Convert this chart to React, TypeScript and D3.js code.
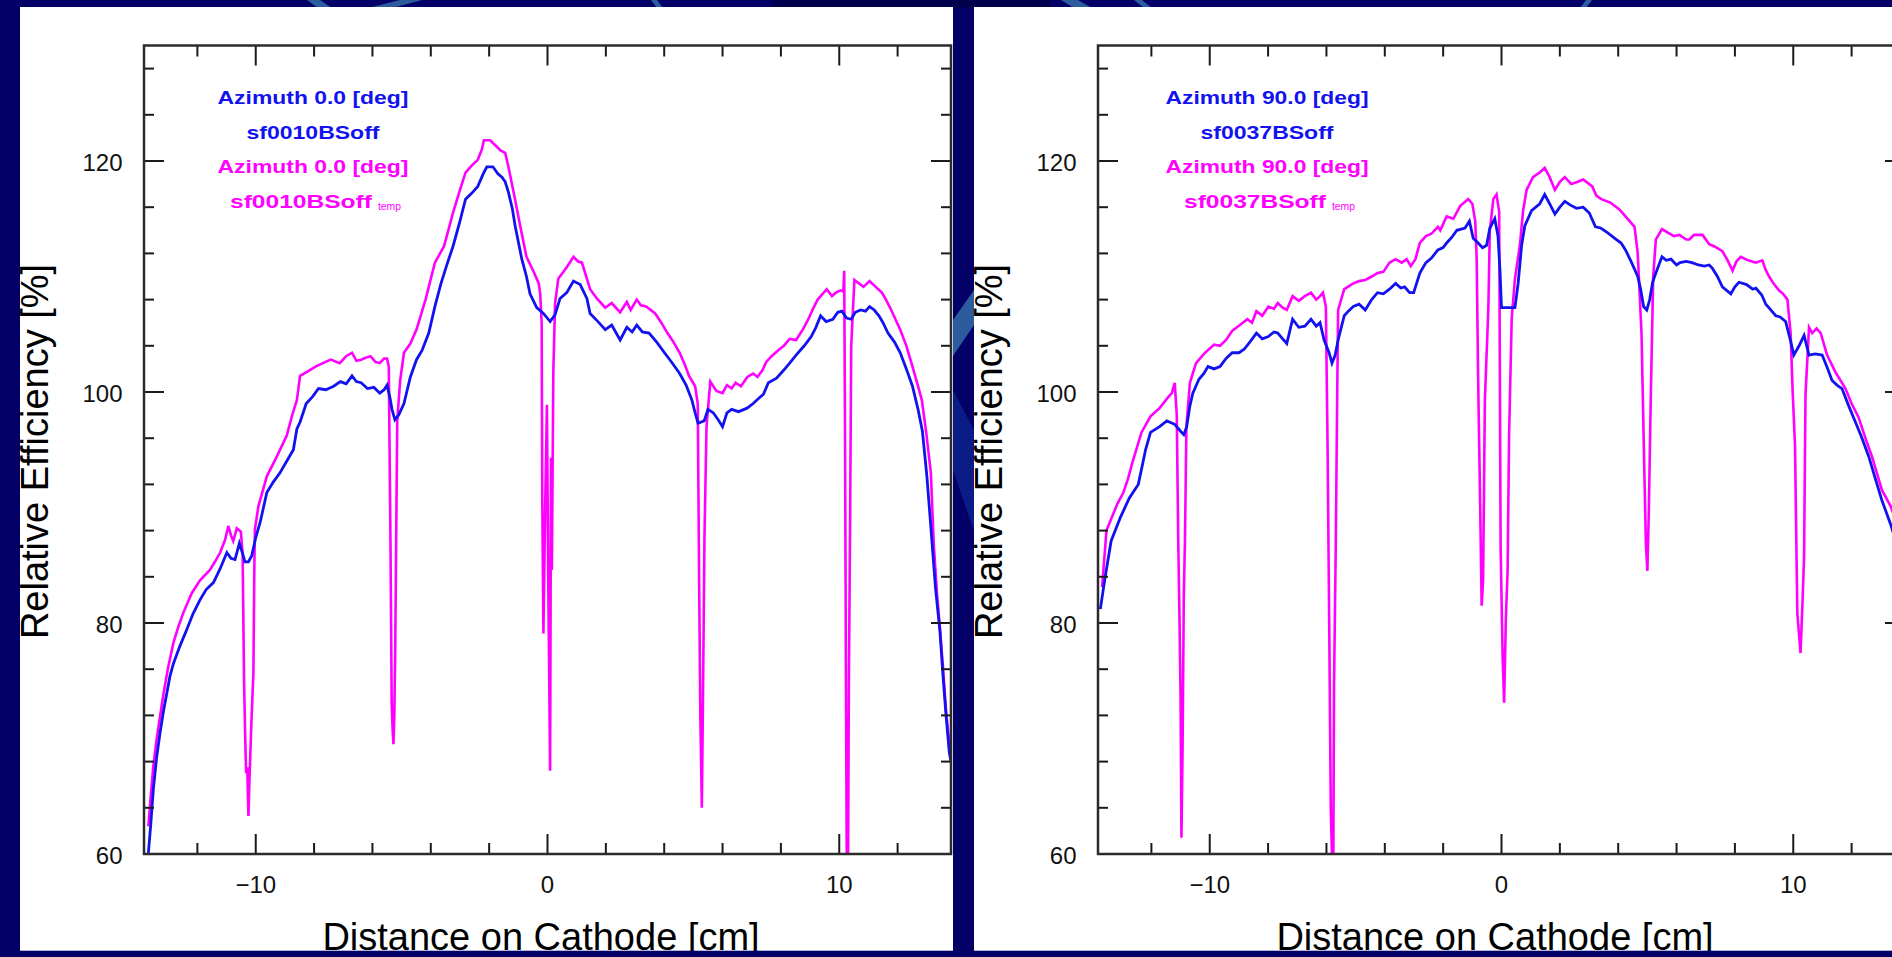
import React from "react";
import * as d3 from "d3";

type Pt = [number, number];

// Axis ticks and labels
const xTickValues: number[] = [-12, -10, -8, -6, -4, -2, 0, 2, 4, 6, 8, 10, 12];
const xMajorTicks: number[] = [-10, 0, 10];
const yTickValues: number[] = [60, 64, 68, 72, 76, 80, 84, 88, 92, 96, 100, 104, 108, 112, 116, 120, 124, 128];
const yMajorTicks: number[] = [60, 80, 100, 120];
const xDomain: [number, number] = [-13.83, 13.83];
const yDomain: [number, number] = [60, 130];

// Azimuth 0.0 deg, sf0010BSoff
const az0Blue: Pt[] = [
  [-13.68, 60.1], [-13.6, 62.5], [-13.51, 65.6], [-13.4, 68.3], [-13.28, 70.5], [-13.16, 72.4],
  [-13.05, 73.9], [-12.94, 75.4], [-12.82, 76.5], [-12.6, 78.0], [-12.37, 79.4], [-12.15, 80.8],
  [-11.91, 82.0], [-11.7, 82.9], [-11.45, 83.5], [-11.22, 84.7], [-10.99, 86.1], [-10.85, 85.6],
  [-10.71, 85.5], [-10.56, 86.9], [-10.45, 86.0], [-10.37, 85.3], [-10.25, 85.3], [-10.14, 85.8],
  [-10.0, 87.4], [-9.85, 88.7], [-9.62, 91.3], [-9.4, 92.2], [-9.17, 93.0], [-8.94, 94.0],
  [-8.71, 95.0], [-8.59, 96.8], [-8.48, 97.4], [-8.27, 99.0], [-8.05, 99.6], [-7.85, 100.3],
  [-7.6, 100.2], [-7.33, 100.5], [-7.1, 100.9], [-6.9, 100.7], [-6.7, 101.4], [-6.55, 100.9],
  [-6.39, 100.8], [-6.17, 100.3], [-5.95, 100.4], [-5.75, 99.9], [-5.6, 100.2], [-5.5, 100.6],
  [-5.4, 99.5], [-5.33, 98.5], [-5.23, 97.6], [-5.1, 98.0], [-4.92, 99.0], [-4.7, 101.3],
  [-4.49, 102.8], [-4.3, 103.6], [-4.07, 105.1], [-3.85, 107.5], [-3.65, 109.4], [-3.45, 111.0],
  [-3.24, 112.6], [-3.0, 114.8], [-2.81, 116.7], [-2.6, 117.2], [-2.39, 117.8], [-2.2, 118.9],
  [-2.08, 119.5], [-1.87, 119.5], [-1.7, 118.9], [-1.56, 118.6], [-1.45, 118.2], [-1.34, 117.3],
  [-1.2, 115.8], [-1.11, 114.4], [-0.88, 111.5], [-0.72, 110.0], [-0.6, 108.5], [-0.37, 107.3],
  [-0.14, 106.8], [0.09, 106.1], [0.26, 106.7], [0.43, 108.1], [0.66, 108.6], [0.89, 109.6],
  [1.12, 109.3], [1.35, 108.1], [1.46, 106.8], [1.69, 106.2], [1.98, 105.4], [2.2, 105.8],
  [2.49, 104.5], [2.72, 105.6], [2.9, 105.2], [3.06, 105.8], [3.25, 105.2], [3.48, 105.1],
  [3.75, 104.3], [4.01, 103.4], [4.25, 102.6], [4.53, 101.6], [4.75, 100.6], [4.95, 99.3],
  [5.06, 98.2], [5.16, 97.3], [5.37, 97.5], [5.5, 98.5], [5.68, 98.2], [5.85, 97.6],
  [6.0, 97.0], [6.15, 98.2], [6.31, 98.5], [6.55, 98.3], [6.84, 98.6], [7.05, 99.0],
  [7.26, 99.5], [7.4, 99.8], [7.57, 100.8], [7.85, 101.2], [8.1, 101.9], [8.3, 102.5],
  [8.52, 103.2], [8.8, 104.0], [9.04, 104.8], [9.2, 105.6], [9.36, 106.6], [9.55, 106.1],
  [9.78, 106.3], [9.95, 106.9], [10.09, 107.0], [10.25, 106.4], [10.41, 106.3], [10.55, 106.9],
  [10.73, 107.1], [10.9, 107.0], [11.04, 107.4], [11.2, 107.1], [11.36, 106.6], [11.5, 106.0],
  [11.67, 105.1], [11.9, 104.3], [12.09, 103.4], [12.3, 102.0], [12.51, 100.5], [12.7, 98.5],
  [12.85, 96.6], [13.0, 92.8], [13.14, 88.3], [13.3, 83.0], [13.45, 79.3], [13.56, 75.3],
  [13.66, 72.0], [13.77, 68.8], [13.83, 68.0],
];

// Azimuth 0.0 deg, sf0010BSoff temp
const az0Magenta: Pt[] = [
  [-13.68, 62.4], [-13.6, 65.0], [-13.51, 67.6], [-13.4, 69.9], [-13.28, 71.9], [-13.16, 73.9],
  [-13.0, 76.2], [-12.82, 78.3], [-12.65, 79.7], [-12.48, 80.9], [-12.19, 82.6], [-11.91, 83.7],
  [-11.57, 84.6], [-11.4, 85.3], [-11.22, 86.1], [-11.05, 87.2], [-10.94, 88.4], [-10.85, 87.6],
  [-10.77, 87.1], [-10.65, 88.2], [-10.51, 87.9], [-10.45, 86.0], [-10.4, 74.8], [-10.36, 70.0],
  [-10.33, 67.0], [-10.29, 67.5], [-10.25, 63.3], [-10.22, 66.0], [-10.2, 67.6], [-10.14, 72.0],
  [-10.08, 75.7], [-10.05, 84.3], [-10.03, 88.1], [-9.91, 90.1], [-9.62, 92.7], [-9.28, 94.4],
  [-8.94, 96.2], [-8.75, 98.0], [-8.59, 99.3], [-8.48, 101.4], [-8.2, 101.8], [-7.95, 102.2],
  [-7.7, 102.5], [-7.43, 102.8], [-7.12, 102.5], [-6.9, 103.1], [-6.7, 103.4], [-6.55, 102.7],
  [-6.39, 102.8], [-6.2, 103.0], [-6.07, 103.1], [-5.9, 102.6], [-5.75, 102.5], [-5.6, 102.9],
  [-5.5, 102.9], [-5.44, 102.2], [-5.38, 86.4], [-5.34, 73.0], [-5.31, 70.9], [-5.28, 69.5],
  [-5.25, 72.0], [-5.22, 77.6], [-5.19, 86.2], [-5.15, 97.5], [-5.05, 101.0], [-4.92, 103.4],
  [-4.7, 104.2], [-4.49, 105.4], [-4.18, 108.0], [-4.0, 109.8], [-3.86, 111.2], [-3.55, 112.6],
  [-3.4, 114.0], [-3.24, 115.5], [-3.0, 117.5], [-2.81, 119.0], [-2.6, 119.6], [-2.39, 120.1],
  [-2.25, 121.0], [-2.18, 121.8], [-1.97, 121.8], [-1.76, 121.3], [-1.6, 120.9], [-1.45, 120.7],
  [-1.34, 119.5], [-1.13, 116.9], [-0.93, 114.3], [-0.72, 111.7], [-0.51, 110.6], [-0.3, 109.4],
  [-0.25, 108.5], [-0.2, 106.0], [-0.18, 91.1], [-0.14, 79.1], [-0.08, 90.0], [-0.02, 98.9],
  [0.03, 82.5], [0.06, 75.0], [0.09, 67.2], [0.12, 94.3], [0.15, 84.6], [0.2, 101.8],
  [0.26, 107.7], [0.37, 109.8], [0.66, 110.8], [0.89, 111.7], [1.05, 111.3], [1.18, 111.2],
  [1.46, 108.9], [1.69, 108.1], [1.98, 107.3], [2.2, 107.7], [2.49, 106.9], [2.72, 107.8],
  [2.85, 107.1], [3.06, 108.0], [3.2, 107.5], [3.38, 107.4], [3.69, 106.8], [3.9, 106.0],
  [4.11, 105.1], [4.3, 104.4], [4.53, 103.4], [4.7, 102.4], [4.85, 101.4], [5.06, 100.5],
  [5.15, 99.0], [5.2, 82.8], [5.24, 71.8], [5.29, 64.0], [5.33, 73.8], [5.38, 87.4],
  [5.45, 97.0], [5.58, 100.9], [5.79, 100.1], [6.0, 99.9], [6.15, 100.6], [6.31, 100.3],
  [6.45, 100.8], [6.63, 100.5], [6.85, 101.3], [7.05, 101.6], [7.2, 101.3], [7.37, 101.9],
  [7.5, 102.6], [7.68, 103.1], [7.9, 103.6], [8.1, 104.0], [8.3, 104.6], [8.52, 104.5],
  [8.75, 105.4], [8.94, 106.3], [9.1, 107.2], [9.26, 108.0], [9.4, 108.4], [9.57, 108.9],
  [9.75, 108.3], [9.88, 108.6], [10.05, 108.8], [10.14, 108.7], [10.17, 110.5], [10.2, 95.0],
  [10.23, 74.4], [10.26, 58.0], [10.3, 58.0], [10.33, 75.0], [10.37, 88.0], [10.41, 104.0],
  [10.52, 109.7], [10.83, 109.1], [11.04, 109.6], [11.25, 109.1], [11.46, 108.6], [11.6, 108.0],
  [11.78, 107.1], [12.09, 105.4], [12.3, 104.0], [12.51, 102.2], [12.7, 100.5], [12.83, 99.3],
  [12.98, 96.5], [13.14, 93.0], [13.24, 86.8], [13.35, 82.5], [13.45, 79.6], [13.56, 76.0],
  [13.66, 72.4], [13.81, 68.6],
];

// Azimuth 90.0 deg, sf0037BSoff
const az90Blue: Pt[] = [
  [-13.75, 81.2], [-13.59, 83.9], [-13.38, 87.1], [-13.07, 89.1], [-12.76, 90.8], [-12.45, 92.0],
  [-12.34, 93.3], [-12.2, 95.0], [-12.03, 96.5], [-11.72, 97.0], [-11.47, 97.5], [-11.2, 97.2],
  [-11.0, 96.6], [-10.89, 96.3], [-10.79, 97.0], [-10.68, 98.8], [-10.58, 99.9], [-10.37, 101.1],
  [-10.2, 101.6], [-10.06, 102.2], [-9.85, 102.0], [-9.65, 102.2], [-9.44, 102.9], [-9.23, 103.4],
  [-9.0, 103.4], [-8.82, 103.7], [-8.6, 104.4], [-8.4, 105.1], [-8.2, 104.6], [-7.99, 104.8],
  [-7.8, 105.2], [-7.67, 105.1], [-7.5, 104.6], [-7.36, 104.2], [-7.16, 106.3], [-6.95, 105.6],
  [-6.74, 105.7], [-6.53, 106.3], [-6.35, 105.7], [-6.22, 106.0], [-6.08, 104.5], [-5.91, 103.4],
  [-5.81, 102.5], [-5.7, 103.2], [-5.6, 104.5], [-5.39, 106.6], [-5.25, 107.0], [-5.08, 107.4],
  [-4.88, 107.6], [-4.67, 107.1], [-4.45, 108.0], [-4.25, 108.6], [-4.05, 108.5], [-3.84, 108.9],
  [-3.63, 109.4], [-3.45, 109.0], [-3.32, 109.1], [-3.15, 108.6], [-3.01, 108.6], [-2.8, 110.3],
  [-2.59, 111.2], [-2.4, 111.6], [-2.18, 112.3], [-2.0, 112.5], [-1.88, 112.9], [-1.7, 113.4],
  [-1.53, 114.0], [-1.25, 114.2], [-1.1, 114.8], [-0.97, 113.3], [-0.8, 112.9], [-0.65, 112.5],
  [-0.51, 112.7], [-0.4, 114.2], [-0.23, 115.0], [-0.12, 113.5], [-0.05, 110.4], [0.0, 107.3],
  [0.46, 107.3], [0.57, 109.4], [0.69, 112.7], [0.8, 114.4], [1.03, 115.7], [1.31, 116.3],
  [1.48, 117.1], [1.65, 116.3], [1.83, 115.4], [2.0, 116.0], [2.17, 116.5], [2.35, 116.2],
  [2.57, 115.9], [2.8, 116.0], [3.01, 115.5], [3.22, 114.3], [3.4, 114.2], [3.63, 113.8],
  [3.94, 113.2], [4.1, 112.9], [4.25, 112.3], [4.46, 111.2], [4.67, 110.0], [4.77, 108.9],
  [4.87, 107.4], [4.98, 107.1], [5.08, 108.0], [5.18, 109.5], [5.29, 110.3], [5.5, 111.7],
  [5.65, 111.4], [5.81, 111.5], [6.0, 111.0], [6.12, 111.2], [6.33, 111.3], [6.53, 111.2],
  [6.75, 111.0], [6.95, 110.9], [7.12, 111.0], [7.23, 110.7], [7.4, 110.0], [7.57, 109.1],
  [7.86, 108.5], [8.0, 109.1], [8.14, 109.5], [8.4, 109.3], [8.61, 108.9], [8.72, 109.0],
  [8.92, 108.4], [9.06, 107.6], [9.2, 107.2], [9.4, 106.6], [9.55, 106.5], [9.74, 106.1],
  [9.9, 104.5], [10.02, 103.2], [10.2, 104.0], [10.37, 104.9], [10.54, 103.2], [10.75, 103.3],
  [10.99, 103.2], [11.15, 102.2], [11.33, 101.0], [11.5, 100.6], [11.67, 100.3], [11.9, 98.8],
  [12.13, 97.4], [12.34, 96.1], [12.59, 94.4], [12.8, 92.6], [13.04, 90.6], [13.2, 89.5],
  [13.33, 88.6], [13.5, 87.2],
];

// Azimuth 90.0 deg, sf0037BSoff temp
const az90Magenta: Pt[] = [
  [-13.69, 83.1], [-13.54, 88.0], [-13.17, 90.3], [-12.96, 91.3], [-12.8, 92.5], [-12.65, 93.9],
  [-12.34, 96.5], [-12.03, 97.9], [-11.72, 98.6], [-11.41, 99.6], [-11.3, 99.9], [-11.2, 100.8],
  [-11.13, 98.0], [-11.08, 87.2], [-11.04, 81.0], [-11.0, 73.8], [-10.97, 61.4], [-10.93, 69.5],
  [-10.89, 82.2], [-10.85, 87.1], [-10.8, 97.0], [-10.68, 100.8], [-10.47, 102.5], [-10.16, 103.4],
  [-9.85, 104.1], [-9.65, 104.0], [-9.44, 104.5], [-9.23, 105.3], [-9.02, 105.7], [-8.71, 106.3],
  [-8.55, 106.0], [-8.4, 107.0], [-8.2, 106.6], [-7.99, 107.4], [-7.8, 107.2], [-7.67, 107.7],
  [-7.5, 107.3], [-7.36, 107.1], [-7.16, 108.3], [-6.95, 107.9], [-6.74, 108.3], [-6.53, 108.6],
  [-6.35, 108.0], [-6.22, 108.3], [-6.12, 108.6], [-6.02, 107.4], [-5.96, 95.0], [-5.9, 78.4],
  [-5.85, 63.7], [-5.81, 60.0], [-5.77, 56.0], [-5.74, 74.7], [-5.68, 86.8], [-5.63, 100.0],
  [-5.6, 107.1], [-5.39, 108.9], [-5.08, 109.4], [-4.88, 109.6], [-4.67, 109.7], [-4.45, 110.0],
  [-4.25, 110.3], [-4.05, 110.4], [-3.84, 111.2], [-3.63, 111.5], [-3.42, 111.2], [-3.25, 111.5],
  [-3.11, 110.9], [-2.95, 111.5], [-2.8, 112.9], [-2.59, 113.5], [-2.4, 113.7], [-2.18, 114.3],
  [-2.1, 114.0], [-1.88, 115.2], [-1.65, 115.0], [-1.42, 116.1], [-1.14, 116.7], [-1.0, 116.3],
  [-0.9, 114.8], [-0.85, 111.5], [-0.8, 101.0], [-0.74, 91.7], [-0.68, 81.5], [-0.63, 83.8],
  [-0.57, 99.3], [-0.45, 107.3], [-0.4, 114.0], [-0.28, 116.7], [-0.17, 117.1], [-0.08, 115.6],
  [-0.05, 98.0], [-0.03, 86.5], [0.04, 77.0], [0.09, 73.1], [0.15, 80.4], [0.21, 84.6],
  [0.26, 96.3], [0.35, 106.4], [0.46, 109.8], [0.63, 112.7], [0.74, 115.7], [0.86, 117.5],
  [1.08, 118.6], [1.31, 119.0], [1.48, 119.4], [1.65, 118.6], [1.83, 117.5], [2.0, 118.2],
  [2.17, 118.6], [2.39, 118.0], [2.62, 118.2], [2.8, 118.4], [3.11, 117.8], [3.25, 117.0],
  [3.42, 116.7], [3.73, 116.4], [4.04, 115.8], [4.25, 115.2], [4.56, 114.3], [4.67, 112.0],
  [4.8, 105.0], [4.9, 92.6], [4.95, 86.8], [5.0, 84.5], [5.05, 89.7], [5.12, 100.0],
  [5.2, 110.0], [5.29, 113.2], [5.5, 114.1], [5.7, 113.8], [5.91, 113.5], [6.1, 113.6],
  [6.33, 113.2], [6.44, 113.2], [6.6, 113.6], [6.89, 113.6], [7.12, 112.8], [7.3, 112.6],
  [7.57, 112.2], [7.75, 111.4], [7.92, 110.5], [8.05, 111.3], [8.2, 111.7], [8.45, 111.4],
  [8.72, 111.2], [8.94, 111.4], [9.05, 110.6], [9.17, 110.0], [9.35, 109.3], [9.51, 108.8],
  [9.65, 108.5], [9.8, 108.0], [9.91, 105.1], [9.98, 100.0], [10.06, 95.4], [10.14, 80.8],
  [10.25, 77.4], [10.32, 82.0], [10.37, 85.7], [10.42, 99.8], [10.54, 105.6], [10.65, 105.1],
  [10.8, 105.5], [10.94, 105.1], [11.16, 103.2], [11.45, 101.7], [11.79, 100.3], [12.0, 99.0],
  [12.24, 97.8], [12.5, 95.8], [12.7, 94.4], [13.04, 91.5], [13.34, 90.1], [13.5, 89.0],
];

const panelLabels = [
  { azimuth: "Azimuth 0.0 [deg]", run: "sf0010BSoff" },
  { azimuth: "Azimuth 90.0 [deg]", run: "sf0037BSoff" },
];

const BLUE = "#1212f0";
const MAGENTA = "#ff00ff";
const NAVY = "#030067";
const FONT = "'Liberation Sans', Arial, Helvetica, sans-serif";

interface PanelProps {
  id: string;
  dx: number;
  panelWidth: number;
  blue: Pt[];
  magenta: Pt[];
  azimuth: string;
  run: string;
  azWidth: number;
}

function Panel({ id, dx, panelWidth, blue, magenta, azimuth, run, azWidth }: PanelProps) {
  const left = 144 + dx;
  const right = 951 + dx;
  const top = 45.5;
  const bottom = 854;
  const x = d3.scaleLinear().domain(xDomain).range([left, right]);
  const y = d3.scaleLinear().domain(yDomain).range([bottom, top]);
  const line = d3
    .line<Pt>()
    .x((d) => x(d[0]))
    .y((d) => y(d[1]));

  const legendX = left + 169;
  const tickColor = "#1a1a1a";

  return (
    <g>
      <rect x={20 + dx} y={7} width={panelWidth} height={944} fill="#ffffff" />
      <defs>
        <clipPath id={`plot-${id}`}>
          <rect x={left} y={top} width={right - left} height={bottom - top} />
        </clipPath>
      </defs>

      {/* curves */}
      <g clipPath={`url(#plot-${id})`} fill="none" strokeLinejoin="miter" strokeLinecap="butt">
        <path d={line(magenta) ?? ""} stroke={MAGENTA} strokeWidth={2.6} />
        <path d={line(blue) ?? ""} stroke={BLUE} strokeWidth={2.8} />
      </g>

      {/* ticks */}
      <g stroke={tickColor} strokeWidth={2}>
        {xTickValues.map((v) => {
          const len = xMajorTicks.includes(v) ? 20 : 11;
          const px = x(v);
          return (
            <g key={`xt${v}`}>
              <line x1={px} x2={px} y1={bottom} y2={bottom - len} />
              <line x1={px} x2={px} y1={top} y2={top + len} />
            </g>
          );
        })}
        {yTickValues.map((v) => {
          const len = yMajorTicks.includes(v) ? 20 : 10;
          const py = y(v);
          return (
            <g key={`yt${v}`}>
              <line x1={left} x2={left + len} y1={py} y2={py} />
              <line x1={right} x2={right - len} y1={py} y2={py} />
            </g>
          );
        })}
      </g>

      <rect
        x={left}
        y={top}
        width={right - left}
        height={bottom - top}
        fill="none"
        stroke="#2b2b2b"
        strokeWidth={2.5}
      />

      {/* tick labels */}
      <g fontFamily={FONT} fontSize={24} fill="#111">
        {yMajorTicks.map((v) => (
          <text key={`yl${v}`} x={left - 21.5} y={y(v) + 9.5} textAnchor="end">
            {String(v)}
          </text>
        ))}
        {xMajorTicks.map((v) => (
          <text key={`xl${v}`} x={x(v)} y={893} textAnchor="middle">
            {v < 0 ? `\u2212${Math.abs(v)}` : String(v)}
          </text>
        ))}
      </g>

      {/* axis titles */}
      <text
        x={x(0) - 6.5}
        y={950}
        textAnchor="middle"
        fontFamily={FONT}
        fontSize={38}
        fill="#000"
      >
        Distance on Cathode [cm]
      </text>
      <text
        transform={`translate(${48 + dx},${451.5}) rotate(-90)`}
        textAnchor="middle"
        fontFamily={FONT}
        fontSize={38}
        fill="#000"
      >
        Relative Efficiency [%]
      </text>

      {/* legend */}
      <g fontFamily={FONT} fontWeight="bold" fontSize={18}>
        <text
          x={legendX}
          y={103.5}
          textAnchor="middle"
          fill={BLUE}
          textLength={azWidth}
          lengthAdjust="spacingAndGlyphs"
        >
          {azimuth}
        </text>
        <text
          x={legendX}
          y={139}
          textAnchor="middle"
          fill={BLUE}
          textLength={133}
          lengthAdjust="spacingAndGlyphs"
        >
          {run}
        </text>
        <text
          x={legendX}
          y={172.5}
          textAnchor="middle"
          fill={MAGENTA}
          textLength={azWidth}
          lengthAdjust="spacingAndGlyphs"
        >
          {azimuth}
        </text>
        <text
          x={left + 86}
          y={208}
          fill={MAGENTA}
          textLength={142}
          lengthAdjust="spacingAndGlyphs"
        >
          {run}
        </text>
        <text
          x={left + 234}
          y={209.5}
          fill={MAGENTA}
          fontSize={11}
          fontWeight="normal"
          textLength={23}
          lengthAdjust="spacingAndGlyphs"
        >
          temp
        </text>
      </g>
    </g>
  );
}

function Backdrop() {
  const light = "#2c5c9e";
  const mid = "#0c1c86";
  return (
    <g>
      <rect x={0} y={0} width={1892} height={957} fill={NAVY} />
      <rect x={772} y={0} width={278} height={8} fill="#01004f" />
      <polygon points="307,0 320,0 332,8 318,8" fill={light} />
      <polygon points="400,0 422,0 392,8 368,8" fill={light} />
      <polygon points="651,0 657,0 663,8 657,8" fill={light} />
      <polygon points="1061,0 1078,0 1092,8 1074,8" fill={light} />
      <polygon points="1134,0 1142,0 1152,8 1144,8" fill={light} />
      <polygon points="1586,0 1592,0 1586,8 1580,8" fill={light} />
      <polygon points="953,320 974,290 974,325 953,356" fill={light} />
      <polygon points="953,390 974,430 974,531 953,470" fill={mid} />
    </g>
  );
}

export default function App() {
  return (
    <svg
      width={1892}
      height={957}
      viewBox="0 0 1892 957"
      style={{ position: "absolute", left: 0, top: 0, display: "block" }}
    >
      <Backdrop />
      <Panel
        id="az0"
        dx={0}
        panelWidth={933}
        blue={az0Blue}
        magenta={az0Magenta}
        azimuth={panelLabels[0].azimuth}
        run={panelLabels[0].run}
        azWidth={191}
      />
      <Panel
        id="az90"
        dx={954}
        panelWidth={940}
        blue={az90Blue}
        magenta={az90Magenta}
        azimuth={panelLabels[1].azimuth}
        run={panelLabels[1].run}
        azWidth={203}
      />
      <rect x={0} y={950.7} width={1892} height={7} fill={NAVY} />
    </svg>
  );
}
